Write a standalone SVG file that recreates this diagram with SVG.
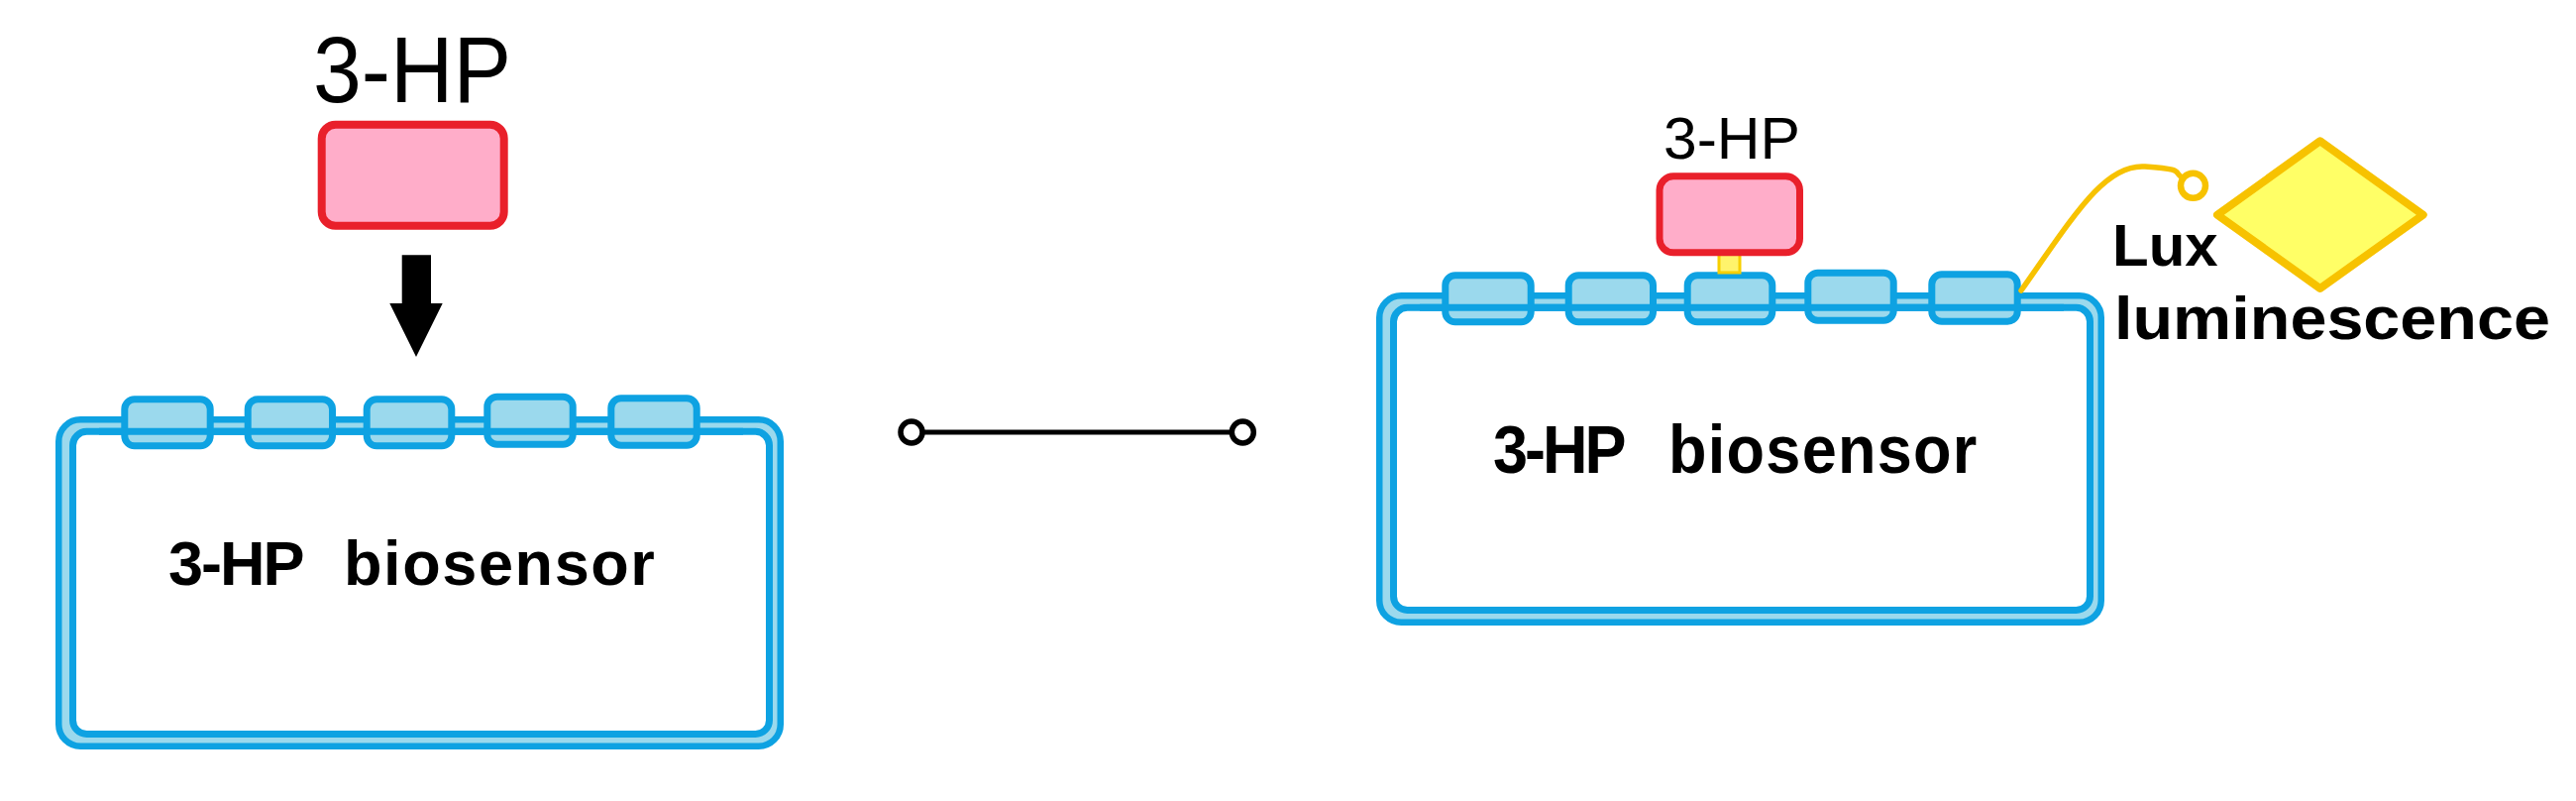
<svg xmlns="http://www.w3.org/2000/svg" xmlns:xlink="http://www.w3.org/1999/xlink" width="2600" height="808" viewBox="0 0 2600 808">
<style>
.mem-outer{fill:#9BD9ED;stroke:#0EA2E2;stroke-width:6.5}
.mem-inner{fill:#FFFFFF;stroke:#0EA2E2;stroke-width:7}
.bump{fill:#9BD9ED;stroke:#0EA2E2;stroke-width:7}
.mem-line{stroke:#0EA2E2;stroke-width:7;fill:none}
.ligand{fill:#FFADC9;stroke:#E9202B}
.lbl{font-family:"Liberation Sans",Arial,sans-serif;fill:#000000}
.bold{font-weight:bold}
.tether{stroke:#F7C200;fill:none;stroke-width:5.5;stroke-linecap:round}
.wire{stroke:#000000;stroke-width:5;fill:none}
.end{fill:#FFFFFF;stroke:#000000;stroke-width:5.5}
</style>
<defs>
<g id="cellShape">
<rect class="mem-outer" x="59.25" y="423.25" width="728.5" height="329.5" rx="22"/>
<rect class="mem-inner" x="73.5" y="435.3" width="703" height="305.2" rx="14"/>
<rect class="bump" x="125.8" y="402.8" width="86.4" height="47" rx="10"/>
<rect class="bump" x="250.2" y="402.8" width="85.3" height="47" rx="10"/>
<rect class="bump" x="370.2" y="402.8" width="85.6" height="47" rx="10"/>
<rect class="bump" x="491.8" y="400.2" width="86.4" height="48" rx="10"/>
<rect class="bump" x="616.8" y="401.8" width="86.4" height="47.4" rx="10"/>
<line class="mem-line" x1="100" y1="435.3" x2="750" y2="435.3"/>
</g>
</defs>
<rect x="0" y="0" width="2600" height="808" fill="#FFFFFF"/>

<g id="cell-left">
<use xlink:href="#cellShape" href="#cellShape"/>
<text class="lbl bold" font-size="63" y="590"><tspan x="170" letter-spacing="-2">3-HP</tspan><tspan x="347" letter-spacing="1.6">biosensor</tspan></text>
</g>

<g id="cell-right">
<use xlink:href="#cellShape" href="#cellShape" transform="translate(1333,-125)"/>
<text class="lbl bold" font-size="63" transform="translate(0,477) scale(1,1.09)" y="0"><tspan x="1507" letter-spacing="-3">3-HP</tspan><tspan x="1684" letter-spacing="1.3">biosensor</tspan></text>
</g>

<g id="connectors">
<polygon points="405.7,257.3 435,257.3 435,306 446.7,306 420,360 393.3,306 405.7,306" fill="#000000"/>
<line class="wire" x1="931" y1="436" x2="1243" y2="436"/>
<circle class="end" cx="920" cy="436" r="11"/>
<circle class="end" cx="1254.3" cy="436" r="11"/>
<rect x="1735" y="256" width="21" height="19" fill="#FFF36B" stroke="#F7CF00" stroke-width="3"/>
<path class="tether" d="M2040,293 C2095,215 2125,165 2165,168 S2194,173 2201,178"/>
<circle cx="2213.5" cy="187.3" r="12.5" fill="none" stroke="#F7C200" stroke-width="6.5"/>
</g>

<g id="ligand-left">
<text class="lbl" font-size="95" x="316" y="103.3" textLength="200" lengthAdjust="spacingAndGlyphs">3-HP</text>
<rect class="ligand" x="324.7" y="125.7" width="184" height="102" rx="14" stroke-width="8"/>
</g>

<g id="ligand-right">
<text class="lbl" font-size="60" x="1679" y="160" textLength="138" lengthAdjust="spacingAndGlyphs">3-HP</text>
<rect class="ligand" x="1675" y="177.8" width="141.5" height="77" rx="14" stroke-width="7"/>
</g>

<g id="lux">
<polygon points="2341.7,142.3 2445.7,216.7 2341.7,291 2238,216.7" fill="#FFFF66" stroke="#F7C200" stroke-width="8" stroke-linejoin="round"/>
<text class="lbl bold" font-size="60" x="2132" y="268.3">Lux</text>
<text class="lbl bold" font-size="62" x="2134" y="341.7" textLength="440" lengthAdjust="spacingAndGlyphs">luminescence</text>
</g>
</svg>
